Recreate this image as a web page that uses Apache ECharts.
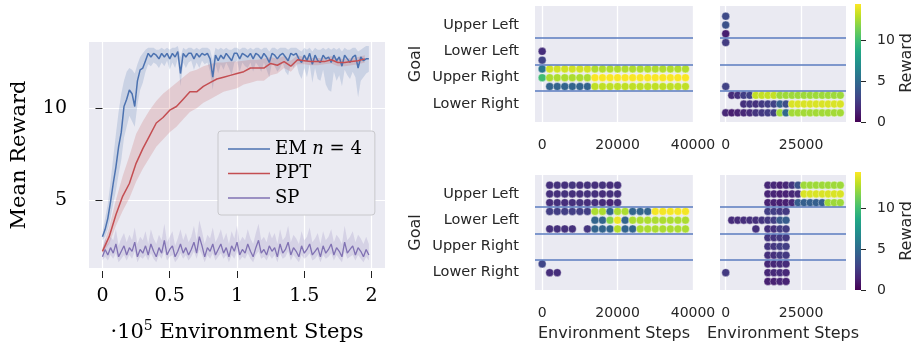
<!DOCTYPE html>
<html><head><meta charset="utf-8">
<script src="https://cdn.jsdelivr.net/npm/echarts@6/dist/echarts.min.js"></script>
<style>html,body{margin:0;padding:0;background:#fff}#c{width:916px;height:352px}</style>
</head><body><div id="c"></div>
<script>
const _ = null;
// ---------- Left panel: mean reward curves (x in 1e5 environment steps) ----------
const curveSteps = [0,0.02,0.04,0.06,0.08,0.1,0.12,0.14,0.16,0.18,
0.2,0.22,0.24,0.26,0.28,0.3,0.32,0.34,0.36,0.38,
0.4,0.42,0.44,0.46,0.48,0.5,0.52,0.54,0.56,0.58,
0.6,0.62,0.64,0.66,0.68,0.7,0.72,0.74,0.76,0.78,
0.8,0.82,0.84,0.86,0.88,0.9,0.92,0.94,0.96,0.98,
1,1.02,1.04,1.06,1.08,1.1,1.12,1.14,1.16,1.18,
1.2,1.22,1.24,1.26,1.28,1.3,1.32,1.34,1.36,1.38,
1.4,1.42,1.44,1.46,1.48,1.5,1.52,1.54,1.56,1.58,
1.6,1.62,1.64,1.66,1.68,1.7,1.72,1.74,1.76,1.78,
1.8,1.82,1.84,1.86,1.88,1.9,1.92,1.94,1.96,1.98];
const emMean = [3.0,3.4,4.0,4.9,5.9,6.8,7.9,8.7,10.1,10.5,
11.0,10.8,10.1,11.5,12.1,12.2,12.6,13.0,12.8,13.0,
12.9,12.7,13.0,12.8,13.0,12.7,13.0,12.8,13.1,11.9,
13.0,12.8,13.0,13.0,12.7,13.0,12.8,13.0,12.9,13.0,
12.7,11.7,12.9,12.6,12.9,12.7,13.0,12.8,12.6,13.0,
13.0,12.7,13.0,12.9,12.8,13.0,12.7,13.0,12.9,12.7,
13.0,12.8,12.5,13.0,12.9,12.7,12.9,13.0,12.8,12.6,
13.0,12.9,13.0,12.7,12.5,12.9,12.6,13.0,12.4,12.9,
12.6,12.5,12.9,12.7,12.8,12.5,12.9,12.6,12.8,12.3,
12.9,12.7,12.5,12.8,12.9,12.2,12.8,12.6,12.7,12.7];
const emLo = [2.8,3.0,3.4,4.0,4.8,5.5,6.4,7.2,8.4,9.0,
9.6,9.3,9.0,10.2,11.0,11.4,12.0,12.4,12.3,12.5,
12.4,12.2,12.5,12.3,12.6,12.1,12.5,12.2,12.7,11.2,
12.5,12.2,12.5,12.6,12.1,12.5,12.2,12.6,12.4,12.5,
12.0,11.0,12.4,11.9,12.4,12.1,12.5,12.2,11.8,12.5,
12.6,12.0,12.5,12.3,12.2,12.5,12.0,12.5,12.3,12.0,
12.5,12.1,11.7,12.5,12.3,12.0,12.2,12.5,12.0,11.8,
12.4,12.2,12.5,11.9,11.6,12.2,11.7,12.4,11.4,12.2,
11.6,11.5,12.1,11.3,11.0,10.9,12.0,11.5,11.8,11.2,
12.1,11.8,11.6,12.0,11.7,10.6,11.5,11.7,11.9,12.0];
const emHi = [3.3,4.0,4.8,6.0,7.3,8.6,9.8,10.8,11.5,12.0,
12.2,12.1,11.9,12.4,12.8,13.0,13.2,13.3,13.3,13.3,
13.2,13.2,13.3,13.2,13.3,13.2,13.3,13.3,13.4,12.8,
13.3,13.2,13.3,13.3,13.2,13.3,13.2,13.3,13.3,13.3,
13.2,12.6,13.3,13.2,13.3,13.2,13.3,13.2,13.2,13.3,
13.3,13.2,13.3,13.3,13.2,13.3,13.2,13.3,13.3,13.2,
13.3,13.3,13.1,13.3,13.3,13.2,13.3,13.3,13.3,13.2,
13.3,13.3,13.3,13.2,13.1,13.3,13.2,13.3,13.1,13.3,
13.2,13.2,13.3,13.2,13.3,13.2,13.3,13.2,13.3,13.1,
13.3,13.2,13.2,13.3,13.3,13.1,13.2,13.3,13.4,13.4];
const spMean = [1.9,2.3,2.0,2.4,2.1,2.6,1.9,2.2,2.5,2.0,
2.4,2.2,2.7,1.9,2.3,2.1,2.5,2.0,2.6,2.2,
1.9,2.4,2.1,2.8,2.0,2.3,2.5,1.9,2.2,2.6,
2.1,2.4,2.0,2.3,2.7,2.1,3.0,2.5,1.9,2.4,
2.2,2.6,2.0,2.3,2.6,2.1,2.4,1.9,2.5,2.2,
2.7,2.0,2.3,2.1,2.6,2.2,1.9,2.4,2.8,2.1,
2.3,2.0,2.5,2.2,2.4,1.9,2.6,2.1,2.3,2.7,
2.0,2.4,2.2,1.9,2.5,2.1,2.3,2.6,2.0,2.2,
2.4,1.9,2.5,2.1,2.3,2.6,2.0,2.4,2.2,1.9,
2.7,2.1,2.3,2.5,2.0,2.4,2.2,1.9,2.3,2.0];
const spHi = [2.3,2.9,2.6,3.0,2.8,3.4,2.5,2.9,3.2,2.7,
3.1,2.8,3.5,2.6,3.0,2.8,3.3,2.6,3.4,2.9,
2.6,3.1,2.8,3.7,2.7,3.0,3.3,2.5,2.9,3.4,
2.8,3.2,2.7,3.0,3.6,2.8,3.9,3.3,2.6,3.1,
2.9,3.5,2.7,3.0,3.4,2.8,3.2,2.6,3.3,2.9,
3.6,2.7,3.0,2.8,3.4,2.9,2.6,3.2,3.7,2.8,
3.0,2.7,3.3,2.9,3.2,2.6,3.4,2.8,3.0,3.6,
2.7,3.1,2.9,2.6,3.3,2.8,3.0,3.5,2.7,2.9,
3.2,2.6,3.3,2.8,3.0,3.4,2.7,3.1,2.9,2.6,
3.6,2.8,3.0,3.3,2.7,3.1,2.9,2.6,3.0,2.6];
const spLo = [1.7,1.9,1.7,2.0,1.8,2.1,1.6,1.8,2.0,1.7,
2.0,1.8,2.2,1.6,1.9,1.8,2.0,1.7,2.1,1.8,
1.6,2.0,1.8,2.2,1.7,1.9,2.0,1.6,1.8,2.1,
1.8,2.0,1.7,1.9,2.2,1.8,2.3,2.0,1.6,2.0,
1.8,2.1,1.7,1.9,2.1,1.8,2.0,1.6,2.0,1.8,
2.2,1.7,1.9,1.8,2.1,1.8,1.6,2.0,2.2,1.8,
1.9,1.7,2.0,1.8,2.0,1.6,2.1,1.8,1.9,2.2,
1.7,2.0,1.8,1.6,2.0,1.8,1.9,2.1,1.7,1.8,
2.0,1.6,2.0,1.8,1.9,2.1,1.7,2.0,1.8,1.6,
2.2,1.8,1.9,2.0,1.7,2.0,1.8,1.6,1.9,1.7];
const pptSteps = [0,0.05,0.1,0.15,0.2,0.25,0.3,0.35,0.4,0.45,
0.5,0.55,0.6,0.65,0.7,0.75,0.8,0.85,0.9,0.95,
1,1.05,1.1,1.15,1.2,1.25,1.3,1.35,1.4,1.45,
1.5,1.55,1.6,1.65,1.7,1.75,1.8,1.85,1.9,1.95];
const pptMean = [2.2,3.0,4.2,5.2,5.9,7.0,7.8,8.5,9.2,9.5,
9.9,10.1,10.5,10.9,10.9,11.2,11.4,11.6,11.7,11.8,
11.9,12.0,12.2,12.2,12.2,12.45,12.35,12.55,12.3,12.65,
12.6,12.55,12.55,12.55,12.65,12.5,12.5,12.55,12.6,12.7];
const pptLo = [2.1,2.6,3.6,4.4,5.1,6.0,6.7,7.3,7.9,8.3,
8.7,9.0,9.4,9.8,10.0,10.3,10.5,10.7,10.9,11.0,
11.1,11.3,11.4,11.5,11.5,11.8,11.9,12.2,12.0,12.4,
12.4,12.35,12.35,12.4,12.45,12.3,12.3,12.35,12.4,12.5];
const pptHi = [2.4,3.5,5.0,6.3,7.4,8.6,9.3,9.9,10.4,10.8,
11.1,11.4,11.7,12.0,12.1,12.3,12.4,12.5,12.5,12.55,
12.55,12.6,12.65,12.65,12.7,12.8,12.7,12.85,12.6,12.9,
12.8,12.75,12.75,12.75,12.85,12.7,12.7,12.75,12.8,12.9];
const mainXTicks = [0, 0.5, 1, 1.5, 2];
const mainYTicks = [5, 10];

// ---------- Right panels: goal chosen per evaluation step, coloured by reward ----------
const goals = ['Upper Left', 'Lower Left', 'Upper Right', 'Lower Right'];
const goalBounds = [0.5, 1.5, 2.5];
const evalSteps = [0,2000,4000,6000,8000,10000,12000,14000,16000,18000,20000,22000,24000,26000,28000,30000,32000,34000,36000,38000];
// rows: [goal index, sub-row (-1,0,1), rewards per eval step]
const rowsTL = [
 [1, 0, [1.9,_,_,_,_,_,_,_,_,_,_,_,_,_,_,_,_,_,_,_]],
 [1, 1, [2.9,_,_,_,_,_,_,_,_,_,_,_,_,_,_,_,_,_,_,_]],
 [2,-1, [5.6,13.4,13.4,13.4,13.4,13.4,13.4,12.7,12.7,12.7,12.7,12.7,12.7,12.7,12.7,12.7,12.7,12.7,12.7,12.7]],
 [2, 0, [9.9,12.6,12.6,12.6,12.6,12.6,12.6,14.3,14.3,14.3,14.3,14.3,14.3,14.3,14.3,14.3,14.3,14.3,14.3,14.3]],
 [2, 1, [_,4.6,4.6,4.6,4.6,4.6,4.6,13.0,13.0,13.0,13.0,13.0,13.0,13.0,13.0,13.0,13.0,13.0,13.0,13.0]]
];
const rowsTR = [
 [0,-1, [3.2,_,_,_,_,_,_,_,_,_,_,_,_,_,_,_,_,_,_,_]],
 [0, 0, [3.6,_,_,_,_,_,_,_,_,_,_,_,_,_,_,_,_,_,_,_]],
 [0, 1, [1.2,_,_,_,_,_,_,_,_,_,_,_,_,_,_,_,_,_,_,_]],
 [1,-1, [2.5,_,_,_,_,_,_,_,_,_,_,_,_,_,_,_,_,_,_,_]],
 [2, 1, [2.8,_,_,_,_,_,_,_,_,_,_,_,_,_,_,_,_,_,_,_]],
 [3,-1, [_,1.8,2.0,2.6,2.8,13.1,13.1,13.1,13.1,12.3,12.3,12.3,12.3,12.3,12.3,12.3,12.3,12.3,12.3,12.3]],
 [3, 0, [_,_,_,2.0,2.2,2.0,2.4,2.6,2.8,4.3,3.4,13.6,13.6,13.6,13.6,13.6,13.6,13.6,13.6,13.6]],
 [3, 1, [1.6,1.2,1.4,1.6,1.8,2.2,2.4,2.6,2.8,12.3,4.8,12.4,12.4,12.4,12.4,12.4,12.4,12.4,12.4,12.4]]
];
const rowsBL = [
 [0,-1, [_,2.0,2.1,2.0,2.2,2.0,2.1,2.0,2.1,1.9,2.0,_,_,_,_,_,_,_,_,_]],
 [0, 0, [_,2.0,2.0,2.1,2.0,2.0,2.1,2.0,1.9,2.0,2.0,_,_,_,_,_,_,_,_,_]],
 [0, 1, [_,1.9,2.0,1.9,2.0,2.1,1.9,2.0,1.8,1.5,1.9,_,_,_,_,_,_,_,_,_]],
 [1,-1, [_,2.6,2.6,2.6,2.6,2.6,2.6,12.6,12.6,4.6,12.6,12.6,4.6,4.6,4.6,14.2,14.2,14.2,14.2,14.2]],
 [1, 0, [_,_,_,_,_,_,_,4.6,4.6,11.8,14.0,4.6,12.6,12.6,12.6,12.6,12.6,12.6,12.6,12.6]],
 [1, 1, [_,2.0,2.0,2.0,2.0,_,2.2,4.6,4.6,4.6,12.8,4.6,4.6,12.6,12.6,12.6,12.6,12.6,12.6,12.6]],
 [3,-1, [3.0,_,_,_,_,_,_,_,_,_,_,_,_,_,_,_,_,_,_,_]],
 [3, 0, [_,1.9,1.9,_,_,_,_,_,_,_,_,_,_,_,_,_,_,_,_,_]]
];
const rowsBR = [
 [0,-1, [_,_,_,_,_,_,_,1.6,1.6,1.4,1.6,2.2,3.6,12.3,12.3,12.3,12.3,12.3,12.3,12.3]],
 [0, 0, [_,_,_,_,_,_,_,1.5,1.5,1.3,1.4,1.6,1.9,13.6,13.6,13.6,13.6,13.6,13.6,13.6]],
 [0, 1, [_,_,_,_,_,_,_,1.4,1.4,1.2,1.3,1.6,4.2,4.3,4.3,4.3,4.3,12.3,12.3,12.3]],
 [1,-1, [_,_,_,_,_,_,_,2.6,2.6,2.4,2.4,_,_,_,_,_,_,_,_,_]],
 [1, 0, [_,1.8,1.8,1.9,2.0,2.0,2.2,2.4,2.6,4.0,4.2,_,_,_,_,_,_,_,_,_]],
 [1, 1, [_,_,_,_,_,2.0,_,2.0,2.0,2.5,2.5,_,_,_,_,_,_,_,_,_]],
 [2,-1, [_,_,_,_,_,_,_,2.2,2.2,2.4,2.4,_,_,_,_,_,_,_,_,_]],
 [2, 0, [_,_,_,_,_,_,_,2.2,2.3,2.6,2.6,_,_,_,_,_,_,_,_,_]],
 [2, 1, [_,_,_,_,_,_,_,2.0,2.0,2.4,2.4,_,_,_,_,_,_,_,_,_]],
 [3,-1, [_,_,_,_,_,_,_,1.6,1.6,1.8,1.8,_,_,_,_,_,_,_,_,_]],
 [3, 0, [2.4,_,_,_,_,_,_,1.6,1.7,1.8,1.6,_,_,_,_,_,_,_,_,_]],
 [3, 1, [_,_,_,_,_,_,_,1.3,1.3,1.5,1.4,_,_,_,_,_,_,_,_,_]]
];
const rewardTicks = [0, 5, 10];
const rewardMax = 14.4;

// ---------- styling ----------
const SERIF = 'DejaVu Serif';
const SANS = 'DejaVu Sans';
const BG = '#eaeaf2';
const TXT = '#262626';
const SEP = '#5a7bbf';
const viridis = ['#440154','#482475','#414487','#355f8d','#2a788e','#21918c','#22a884','#44bf70','#7ad151','#bddf26','#fde725'];
const C_EM = '#4c72b0', C_PPT = '#c44e52', C_SP = '#8172b3';

const pairs = (xs, ys) => xs.map((x, i) => [x, ys[i]]);

const grids = [
  {left: 89, top: 42, width: 296, height: 226, show: true, backgroundColor: BG, borderWidth: 0},
  {left: 535, top: 6, width: 158, height: 116, show: true, backgroundColor: BG, borderWidth: 0},
  {left: 720, top: 6, width: 126, height: 116, show: true, backgroundColor: BG, borderWidth: 0},
  {left: 535, top: 175, width: 158, height: 115, show: true, backgroundColor: BG, borderWidth: 0},
  {left: 720, top: 175, width: 126, height: 115, show: true, backgroundColor: BG, borderWidth: 0},
  {left: 855, top: 4, width: 6, height: 118},
  {left: 855, top: 172, width: 6, height: 118}
];

const xAxes = [
  {type: 'value', gridIndex: 0, min: -0.1, max: 2.1, offset: 3,
   axisLine: {show: false},
   axisTick: {show: true, length: 7, lineStyle: {color: '#222'}, customValues: mainXTicks},
   axisLabel: {customValues: mainXTicks, fontFamily: SERIF, fontSize: 19, color: '#000', margin: 16},
   splitLine: {show: true, lineStyle: {color: '#fff', width: 1.2}},
   name: '·10{sup|5} Environment Steps', nameLocation: 'middle', nameGap: 48,
   nameTextStyle: {fontFamily: SERIF, fontSize: 21, color: '#000', lineHeight: 28,
     rich: {sup: {fontFamily: SERIF, fontSize: 14, color: '#000', verticalAlign: 'top', lineHeight: 28}}}
  }
];
const yAxes = [
  {type: 'value', gridIndex: 0, min: 1.29, max: 13.62, offset: 3,
   axisLine: {show: false},
   axisTick: {show: true, length: 7, lineStyle: {color: '#222'}, customValues: mainYTicks},
   axisLabel: {customValues: mainYTicks, fontFamily: SERIF, fontSize: 19, color: '#000', margin: 19},
   splitLine: {show: true, lineStyle: {color: '#fff', width: 1.2}},
   name: 'Mean Reward', nameLocation: 'middle', nameRotate: 90, nameGap: 56,
   nameTextStyle: {fontFamily: SERIF, fontSize: 21, color: '#000'}
  }
];
const panelDefs = [
  {rows: rowsTL, g: 1, xmax: 40000, xt: [0, 20000, 40000], ylab: true, xname: false, ymax: 3.68},
  {rows: rowsTR, g: 2, xmax: 39900, xt: [0, 25000], ylab: false, xname: false, ymax: 3.68},
  {rows: rowsBL, g: 3, xmax: 40000, xt: [0, 20000, 40000], ylab: true, xname: true, ymax: 3.66},
  {rows: rowsBR, g: 4, xmax: 39900, xt: [0, 25000], ylab: false, xname: true, ymax: 3.66}
];
panelDefs.forEach(p => {
  xAxes.push({type: 'value', gridIndex: p.g, min: -1900, max: p.xmax,
    axisLine: {show: false}, axisTick: {show: false, customValues: p.xt},
    axisLabel: {customValues: p.xt, formatter: v => String(v), fontFamily: SANS, fontSize: 14, color: TXT, margin: 16},
    splitLine: {show: true, lineStyle: {color: '#fff', width: 1.3}},
    name: p.xname ? 'Environment Steps' : '', nameLocation: 'middle', nameGap: 36,
    nameTextStyle: {fontFamily: SANS, fontSize: 16, color: TXT}});
  yAxes.push({type: 'value', gridIndex: p.g, min: -0.72, max: p.ymax, inverse: true,
    axisLine: {show: false}, axisTick: {show: false, customValues: [0,1,2,3]},
    axisLabel: {show: p.ylab, customValues: [0,1,2,3], formatter: v => goals[v],
      fontFamily: SANS, fontSize: 14.5, color: TXT, margin: 16},
    splitLine: {show: false},
    name: p.ylab ? 'Goal' : '', nameLocation: 'middle', nameRotate: 90, nameGap: 111,
    nameTextStyle: {fontFamily: SANS, fontSize: 16, color: TXT}});
});
[5, 6].forEach(g => {
  xAxes.push({type: 'category', gridIndex: g, data: ['Reward'], show: false});
  yAxes.push({type: 'value', gridIndex: g, min: 0, max: rewardMax, position: 'right',
    axisLine: {show: false},
    axisTick: {show: true, length: 5, lineStyle: {color: TXT}, customValues: rewardTicks},
    axisLabel: {customValues: rewardTicks, fontFamily: SANS, fontSize: 14, color: TXT, margin: 16},
    splitLine: {show: false},
    name: 'Reward', nameLocation: 'middle', nameRotate: 90, nameGap: 38,
    nameTextStyle: {fontFamily: SANS, fontSize: 16, color: TXT}});
});

const series = [];
function band(xs, lo, hi, color) {
  series.push({type: 'custom', xAxisIndex: 0, yAxisIndex: 0, silent: true, z: 1,
    data: xs.map((x, i) => [x, lo[i], hi[i]]),
    encode: {x: 0, y: [1, 2]},
    renderItem: (params, api) => {
      if (params.dataIndex !== 0) return null;
      const top = xs.map((x, i) => api.coord([x, hi[i]]));
      const bot = xs.map((x, i) => api.coord([x, lo[i]])).reverse();
      return {type: 'polygon', shape: {points: top.concat(bot)}, style: {fill: color, opacity: 0.2}};
    }});
}
band(curveSteps, emLo, emHi, C_EM);
band(pptSteps, pptLo, pptHi, C_PPT);
band(curveSteps, spLo, spHi, C_SP);
series.push({type: 'line', name: 'EM', xAxisIndex: 0, yAxisIndex: 0, data: pairs(curveSteps, emMean),
  symbol: 'none', lineStyle: {color: C_EM, width: 1.5}, itemStyle: {color: C_EM}, z: 3});
series.push({type: 'line', name: 'PPT', xAxisIndex: 0, yAxisIndex: 0, data: pairs(pptSteps, pptMean),
  symbol: 'none', lineStyle: {color: C_PPT, width: 1.5}, itemStyle: {color: C_PPT}, z: 3});
series.push({type: 'line', name: 'SP', xAxisIndex: 0, yAxisIndex: 0, data: pairs(curveSteps, spMean),
  symbol: 'none', lineStyle: {color: C_SP, width: 1.3}, itemStyle: {color: C_SP}, z: 3});

const scatterIdx = [];
panelDefs.forEach(p => {
  const pts = [];
  p.rows.forEach(([goal, sub, vals]) => {
    vals.forEach((r, i) => { if (r !== null) pts.push([evalSteps[i], goal + sub / 3, r]); });
  });
  scatterIdx.push(series.length);
  series.push({type: 'scatter', xAxisIndex: p.g, yAxisIndex: p.g, data: pts, symbolSize: 8,
    itemStyle: {borderColor: 'rgba(255,255,255,0.75)', borderWidth: 0.5, opacity: 1},
    markLine: {silent: true, symbol: ['none', 'none'], label: {show: false}, animation: false,
      lineStyle: {color: SEP, width: 1.5, type: 'solid'},
      data: goalBounds.map(b => ({yAxis: b}))}});
});
[5, 6].forEach(g => {
  series.push({type: 'bar', xAxisIndex: g, yAxisIndex: g, data: [rewardMax], barWidth: '100%', silent: true,
    itemStyle: {color: {type: 'linear', x: 0, y: 1, x2: 0, y2: 0,
      colorStops: viridis.map((c, i) => ({offset: i / (viridis.length - 1), color: c}))}}});
});

const option = {
  animation: false,
  backgroundColor: '#fff',
  textStyle: {fontFamily: SANS},
  grid: grids,
  xAxis: xAxes,
  yAxis: yAxes,
  visualMap: {type: 'continuous', show: false, min: 0, max: rewardMax, dimension: 2,
    seriesIndex: scatterIdx, inRange: {color: viridis}},
  legend: {data: ['EM', 'PPT', 'SP'], orient: 'vertical', left: 218, top: 131,
    padding: [9, 13, 8, 10], itemGap: 6.5, itemWidth: 42, itemHeight: 1.6, icon: 'rect',
    backgroundColor: '#ebebf2', borderColor: '#c8c8cc', borderWidth: 1, borderRadius: 3,
    textStyle: {fontFamily: SERIF, fontSize: 18, color: '#000', lineHeight: 18,
      rich: {i: {fontFamily: SERIF, fontSize: 18, fontStyle: 'italic', color: '#000'}}},
    formatter: n => n === 'EM' ? 'EM {i|n} = 4' : n},
  series: series
};
const chart = echarts.init(document.getElementById('c'), null, {renderer: 'canvas'});
chart.setOption(option);
</script></body></html>
